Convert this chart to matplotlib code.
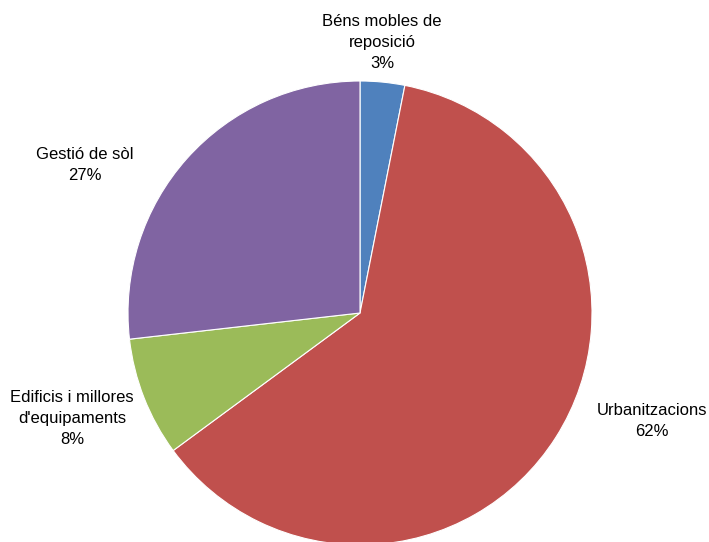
import matplotlib
matplotlib.use("Agg")
import matplotlib.pyplot as plt

labels = ["Béns mobles de\nreposició", "Urbanitzacions", "Edificis i millores\nd'equipaments", "Gestió de sòl"]
values = [3.1, 61.8, 8.3, 26.8]
shown_pct = ["3%", "62%", "8%", "27%"]
colors = ["#4F81BD", "#C0504D", "#9BBB59", "#8064A2"]

W, H = 709, 542
fig = plt.figure(figsize=(W / 100, H / 100), dpi=100)
ax = fig.add_axes([0, 0, 1, 1])

cx, cy, r = 360, H - 313, 232
ax.pie(values, colors=colors, startangle=90, counterclock=False,
       center=(cx, cy), radius=r, frame=True,
       wedgeprops=dict(edgecolor="white", linewidth=0.8))
ax.set_xlim(0, W)
ax.set_ylim(0, H)
ax.set_aspect("equal")
ax.axis("off")

# label centres (pixels, y measured from the top)
label_pos = [(382, 42), (652, 421), (72, 419), (85, 165)]
for lab, pct, (x, y) in zip(labels, shown_pct, label_pos):
    ax.text(x, H - y, lab + "\n" + pct, ha="center", va="center",
            fontsize=12, family="Liberation Sans", linespacing=1.5)

fig.savefig("out.png", dpi=100)
